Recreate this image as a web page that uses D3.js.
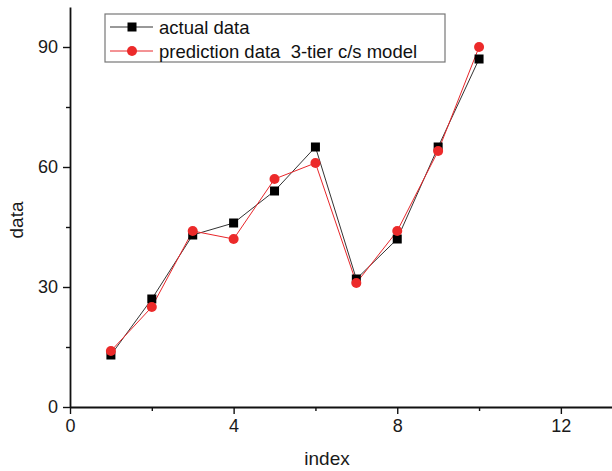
<!DOCTYPE html>
<html>
<head>
<meta charset="utf-8">
<script src="https://cdn.jsdelivr.net/npm/d3@7"></script>
<style>
  body { margin: 0; background: #fff; }
  svg { font-family: "Liberation Sans", Arial, sans-serif; }
</style>
</head>
<body>
<svg id="chart" width="612" height="471"></svg>
<script>
'use strict';

// values
const index = [1, 2, 3, 4, 5, 6, 7, 8, 9, 10];
const actualData = [13, 27, 43, 46, 54, 65, 32, 42, 65, 87];
const predictionData = [14, 25, 44, 42, 57, 61, 31, 44, 64, 90];
const xTicks = [0, 4, 8, 12];
const yTicks = [0, 30, 60, 90];

const svg = d3.select('#chart');
const margin = {top: 7, right: 0, bottom: 64, left: 70};
const width = 612 - margin.left - margin.right,
    height = 471 - margin.top - margin.bottom;

const x = d3.scaleLinear().domain([0, 13.25]).range([0, width]);
const y = d3.scaleLinear().domain([0, 100]).range([height, 0]);

const g = svg.append('g').attr('transform', `translate(${margin.left},${margin.top})`);

// minor ticks first, then major axis on top
g.append('g')
    .attr('transform', `translate(0,${height})`)
    .call(d3.axisBottom(x).tickValues([2, 6, 10]).tickSize(4).tickFormat(''))
    .call(a => a.select('.domain').remove());
g.append('g')
    .call(d3.axisLeft(y).tickValues([15, 45, 75]).tickSize(4).tickFormat(''))
    .call(a => a.select('.domain').remove());

const xAxis = g.append('g')
    .attr('transform', `translate(0,${height})`)
    .call(d3.axisBottom(x).tickValues(xTicks).tickSize(7).tickSizeOuter(0).tickPadding(5));
const yAxis = g.append('g')
    .call(d3.axisLeft(y).tickValues(yTicks).tickSize(7).tickSizeOuter(0).tickPadding(5));

[xAxis, yAxis].forEach(a => {
    a.selectAll('text').style('font-size', '18px').attr('fill', '#1a1a1a');
    a.select('.domain').attr('stroke', '#111').attr('stroke-width', 1.8);
});
g.selectAll('.tick line').attr('stroke', '#111').attr('stroke-width', 1.4);

svg.append('text')
    .attr('x', 327).attr('y', 465)
    .attr('text-anchor', 'middle')
    .style('font-size', '19px').attr('fill', '#1a1a1a')
    .text('index');
svg.append('text')
    .attr('transform', 'translate(23,220) rotate(-90)')
    .attr('text-anchor', 'middle')
    .style('font-size', '19px').attr('fill', '#1a1a1a')
    .text('data');

const line = d3.line()
    .x((d, i) => x(index[i]))
    .y(d => y(d));

// actual data
g.append('path')
    .datum(actualData)
    .attr('fill', 'none')
    .attr('stroke', '#333')
    .attr('stroke-width', 1)
    .attr('d', line);

// prediction data
g.append('path')
    .datum(predictionData)
    .attr('fill', 'none')
    .attr('stroke', '#e8262a')
    .attr('stroke-width', 1)
    .attr('d', line);

g.selectAll('.sq')
    .data(actualData)
    .enter().append('rect')
    .attr('class', 'sq')
    .attr('x', (d, i) => x(index[i]) - 4.5)
    .attr('y', d => y(d) - 4.5)
    .attr('width', 9).attr('height', 9)
    .attr('fill', '#000');

g.selectAll('.dot')
    .data(predictionData)
    .enter().append('circle')
    .attr('class', 'dot')
    .attr('cx', (d, i) => x(index[i]))
    .attr('cy', d => y(d))
    .attr('r', 5)
    .attr('fill', '#ec2a2a');

// legend
const legend = svg.append('g');
legend.append('rect')
    .attr('x', 105).attr('y', 14)
    .attr('width', 340).attr('height', 48)
    .attr('fill', '#fff')
    .attr('stroke', '#777').attr('stroke-width', 1.2);

const items = [
    {name: 'actual data', color: '#333', shape: 'square'},
    {name: 'prediction data  3-tier c/s model', color: '#e8262a', shape: 'circle'}
];
items.forEach((d, i) => {
    const cy = 27 + i * 24;
    legend.append('line')
        .attr('x1', 110).attr('x2', 153)
        .attr('y1', cy).attr('y2', cy)
        .attr('stroke', d.color).attr('stroke-width', 1);
    if (d.shape == 'square') {
        legend.append('rect')
            .attr('x', 132 - 4.5).attr('y', cy - 4.5)
            .attr('width', 9).attr('height', 9)
            .attr('fill', '#000');
    } else {
        legend.append('circle')
            .attr('cx', 132).attr('cy', cy).attr('r', 5)
            .attr('fill', '#ec2a2a');
    }
    legend.append('text')
        .attr('x', 159).attr('y', cy + 6.5)
        .style('font-size', '18.5px').attr('fill', '#111')
        .style('white-space', 'pre')
        .text(d.name);
});
</script>
</body>
</html>
